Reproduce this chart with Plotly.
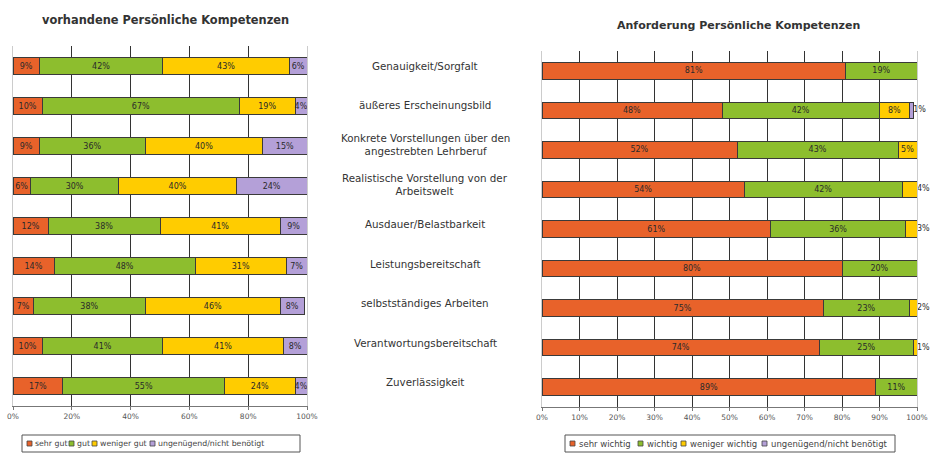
import plotly.graph_objects as go

categories = [
    "Genauigkeit/Sorgfalt",
    "äußeres Erscheinungsbild",
    "Konkrete Vorstellungen über den<br>angestrebten Lehrberuf",
    "Realistische Vorstellung von der<br>Arbeitswelt",
    "Ausdauer/Belastbarkeit",
    "Leistungsbereitschaft",
    "selbstständiges Arbeiten",
    "Verantwortungsbereitschaft",
    "Zuverlässigkeit",
]

# left chart: vorhandene Persönliche Kompetenzen
left_names = ["sehr gut", "gut", "weniger gut", "ungenügend/nicht benötigt"]
sehr_gut = [9, 10, 9, 6, 12, 14, 7, 10, 17]
gut = [42, 67, 36, 30, 38, 48, 38, 41, 55]
weniger_gut = [43, 19, 40, 40, 41, 31, 46, 41, 24]
ungenuegend_l = [6, 4, 15, 24, 9, 7, 8, 8, 4]

# right chart: Anforderung Persönliche Kompetenzen
right_names = ["sehr wichtig", "wichtig", "weniger wichtig", "ungenügend/nicht benötigt"]
sehr_wichtig = [81, 48, 52, 54, 61, 80, 75, 74, 89]
wichtig = [19, 42, 43, 42, 36, 20, 23, 25, 11]
weniger_wichtig = [0, 8, 5, 4, 3, 0, 2, 1, 0]
ungenuegend_r = [0, 1, 0, 0, 0, 0, 0, 0, 0]

colors = ["#E8622A", "#8DBE2E", "#FFCC00", "#B4A0D8"]
FONT = "DejaVu Sans, Liberation Sans, Arial, sans-serif"
TXT = "#2a2a2a"
W, H = 931, 455

fig = go.Figure()

left_series = [sehr_gut, gut, weniger_gut, ungenuegend_l]
for name, vals, col in zip(left_names, left_series, colors):
    fig.add_trace(go.Bar(
        y=categories, x=vals, name=name, orientation="h",
        marker=dict(color=col, line=dict(color="#3a3a3a", width=1)),
        text=[f"{v}%" if v else "" for v in vals], texttemplate="%{text}",
        textposition="inside", insidetextanchor="middle", constraintext="none",
        textangle=0,
        textfont=dict(size=8, color=TXT, family=FONT),
        xaxis="x", yaxis="y", showlegend=False, hoverinfo="skip",
    ))

right_series = [sehr_wichtig, wichtig, weniger_wichtig, ungenuegend_r]
n = len(categories)
last_idx = []
for i in range(n):
    last_idx.append(max(k for k in range(4) if right_series[k][i] > 0))

for k, (name, vals, col) in enumerate(zip(right_names, right_series, colors)):
    texts = []
    for i, v in enumerate(vals):
        if v and not (last_idx[i] == k and v < 5):
            texts.append(f"{v}%")
        else:
            texts.append("")
    fig.add_trace(go.Bar(
        y=categories, x=[v if v else None for v in vals], name=name, orientation="h",
        marker=dict(color=col, line=dict(color="#3a3a3a", width=1)),
        text=texts, texttemplate="%{text}",
        textposition="inside", insidetextanchor="middle", constraintext="none",
        textangle=0,
        textfont=dict(size=8, color=TXT, family=FONT),
        xaxis="x2", yaxis="y2", showlegend=False, hoverinfo="skip",
    ))

# outside labels for small final segments
out_x, out_y, out_t = [], [], []
for i in range(n):
    k = last_idx[i]
    v = right_series[k][i]
    if v < 5:
        out_x.append(sum(s[i] for s in right_series))
        out_y.append(categories[i])
        out_t.append(f"{v}%")
fig.add_trace(go.Scatter(
    x=out_x, y=out_y, text=out_t, mode="text", textposition="middle right",
    textfont=dict(size=8, color="#2a2a2a", family=FONT), showlegend=False,
    xaxis="x2", yaxis="y2", cliponaxis=False, hoverinfo="skip",
))

# category labels in the middle column
for c in categories:
    fig.add_annotation(
        x=425 / W, xref="paper", y=c, yref="y2", text=c, showarrow=False,
        xanchor="center", yanchor="middle", align="center", yshift=5,
        font=dict(size=10.3, color="#333333", family=FONT),
    )

fig.add_annotation(x=165 / W, y=1 - 20 / H, xref="paper", yref="paper",
                   text="<b>vorhandene Persönliche Kompetenzen</b>", showarrow=False,
                   xanchor="center", yanchor="middle",
                   font=dict(size=11.4, color="#333333", family=FONT))
fig.add_annotation(x=738 / W, y=1 - 25 / H, xref="paper", yref="paper",
                   text="<b>Anforderung Persönliche Kompetenzen</b>", showarrow=False,
                   xanchor="center", yanchor="middle",
                   font=dict(size=11, color="#333333", family=FONT))

# custom legends (box, swatches, labels)
def add_legend(box, sq_x, txt_x, names, fsize):
    x0, x1, y0, y1 = box
    fig.add_shape(type="rect", xref="paper", yref="paper",
                  x0=x0 / W, x1=x1 / W, y0=1 - y1 / H, y1=1 - y0 / H,
                  line=dict(color="#555555", width=1), fillcolor="white")
    yc = (y0 + y1) / 2
    for sx, tx, nm, col in zip(sq_x, txt_x, names, colors):
        fig.add_shape(type="rect", xref="paper", yref="paper",
                      x0=sx / W, x1=(sx + 5) / W, y0=1 - (yc + 2.5) / H, y1=1 - (yc - 2.5) / H,
                      line=dict(color="#444444", width=0.8), fillcolor=col)
        fig.add_annotation(x=tx / W, y=1 - yc / H, xref="paper", yref="paper",
                           text=nm, showarrow=False, xanchor="left", yanchor="middle",
                           font=dict(size=fsize, color="#444444", family=FONT))

add_legend((22, 300, 435, 452), [27, 69, 92, 150], [33, 75, 98, 156], left_names, 7.8)
add_legend((565, 895, 435, 452), [570, 638, 681, 762], [577, 645, 688, 769], right_names, 8.5)

xcommon = dict(range=[0, 100], ticksuffix="%", showgrid=True, gridcolor="#333333",
               gridwidth=1.3, zeroline=False, showline=True, linecolor="#777777",
               linewidth=1, ticks="outside", ticklen=3, tickcolor="#777777",
               tickfont=dict(size=7.5, color="#555555", family=FONT), fixedrange=True,
               mirror=False, automargin=False)
ycommon = dict(autorange="reversed", showticklabels=False, showgrid=False,
               zeroline=False, showline=True, linecolor="#cccccc", mirror=True,
               ticks="", fixedrange=True, automargin=False)

fig.update_layout(
    width=W, height=H,
    margin=dict(l=0, r=0, t=0, b=0, pad=0, autoexpand=False),
    paper_bgcolor="white", plot_bgcolor="white",
    barmode="stack", bargap=0.58,
    font=dict(family=FONT),
    showlegend=False,
    xaxis=dict(domain=[13 / W, 307 / W], anchor="y", dtick=20, **xcommon),
    yaxis=dict(domain=[1 - 406 / H, 1 - 46 / H], anchor="x", **ycommon),
    xaxis2=dict(domain=[542 / W, 917 / W], anchor="y2", dtick=10, **xcommon),
    yaxis2=dict(domain=[1 - 407 / H, 1 - 51 / H], anchor="x2", **ycommon),
)

fig.write_html("out.html")
